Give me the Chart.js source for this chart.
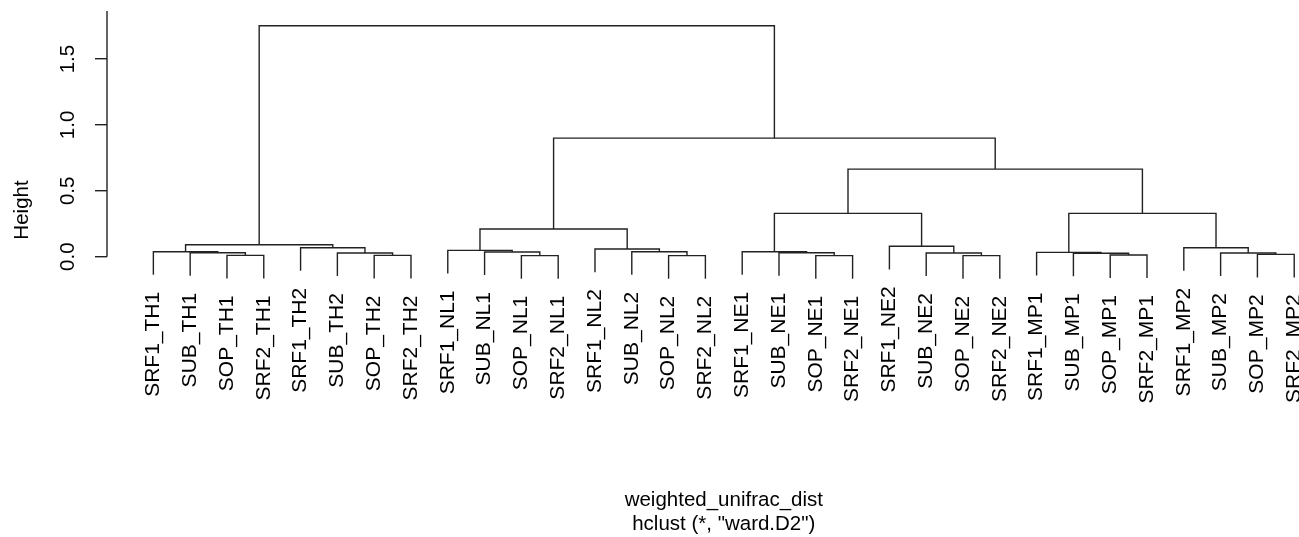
<!DOCTYPE html>
<html>
<head>
<meta charset="utf-8">
<script src="https://cdn.jsdelivr.net/npm/chart.js@4.4.1/dist/chart.umd.min.js"></script>
<style>
body { margin: 0; background: #fff; }
#wrap { width: 1299px; height: 537px; }
</style>
</head>
<body>
<div id="wrap"><canvas id="myGraf"></canvas></div>
<script>
// feuilles dans l'ordre du dendrogramme
var leafLabels = [
    "SRF1_TH1", "SUB_TH1", "SOP_TH1", "SRF2_TH1", "SRF1_TH2", "SUB_TH2", "SOP_TH2", "SRF2_TH2",
    "SRF1_NL1", "SUB_NL1", "SOP_NL1", "SRF2_NL1", "SRF1_NL2", "SUB_NL2", "SOP_NL2", "SRF2_NL2",
    "SRF1_NE1", "SUB_NE1", "SOP_NE1", "SRF2_NE1", "SRF1_NE2", "SUB_NE2", "SOP_NE2", "SRF2_NE2",
    "SRF1_MP1", "SUB_MP1", "SOP_MP1", "SRF2_MP1", "SRF1_MP2", "SUB_MP2", "SOP_MP2", "SRF2_MP2"
];

// style hclust : negatif = feuille, positif = fusion precedente
var merges = [
    [-3, -4], [-2, 1], [-1, 2],
    [-7, -8], [-6, 4], [-5, 5],
    [3, 6],
    [-11, -12], [-10, 8], [-9, 9],
    [-15, -16], [-14, 11], [-13, 12],
    [10, 13],
    [-19, -20], [-18, 15], [-17, 16],
    [-23, -24], [-22, 18], [-21, 19],
    [17, 20],
    [-27, -28], [-26, 22], [-25, 23],
    [-31, -32], [-30, 25], [-29, 26],
    [24, 27],
    [21, 28],
    [14, 29],
    [7, 30]
];

var mergeHeights = [
    0.010, 0.030, 0.038,
    0.010, 0.028, 0.068,
    0.091,
    0.008, 0.036, 0.048,
    0.008, 0.038, 0.058,
    0.210,
    0.008, 0.030, 0.038,
    0.008, 0.028, 0.079,
    0.329,
    0.013, 0.026, 0.033,
    0.018, 0.028, 0.068,
    0.329,
    0.665,
    0.900,
    1.753
];

var yTicks = [0, 0.5, 1, 1.5];
var xTitle = "weighted_unifrac_dist";
var xSub = 'hclust (*, "ward.D2")';

var fontFam = "'Liberation Sans', Arial, sans-serif";
var hang = 0.1 * Math.max.apply(null, mergeHeights);
var nodeX = [];
var leafEnd = {};

function childPos(id, h) {
    if (id < 0) {
        leafEnd[-id] = h - hang;
        return { x: -id, y: h - hang };
    }
    return { x: nodeX[id - 1], y: mergeHeights[id - 1] };
}

var datasets = merges.map(function(m, i) {
    var h = mergeHeights[i];
    var a = childPos(m[0], h);
    var b = childPos(m[1], h);
    nodeX[i] = (a.x + b.x) / 2;
    return {
        data: [{x: a.x, y: a.y}, {x: a.x, y: h}, {x: b.x, y: h}, {x: b.x, y: b.y}],
        borderColor: '#222',
        borderWidth: 1.4,
        pointRadius: 0,
        fill: false,
        tension: 0
    };
});

var dendroText = {
    id: 'dendroText',
    afterDraw: function(chart) {
        var ctx = chart.ctx;
        var xs = chart.scales.x, ys = chart.scales.y;
        var area = chart.chartArea;
        ctx.save();
        // ligne de l'axe Y de 0 jusqu'en haut
        ctx.strokeStyle = '#222';
        ctx.lineWidth = 1.4;
        ctx.beginPath();
        ctx.moveTo(area.left, ys.getPixelForValue(0));
        ctx.lineTo(area.left, area.top);
        ctx.stroke();

        ctx.fillStyle = '#000';
        ctx.font = '21px ' + fontFam;
        leafLabels.forEach(function(lab, i) {
            var px = xs.getPixelForValue(i + 1);
            var py = ys.getPixelForValue(leafEnd[i + 1]) + 17;
            ctx.save();
            ctx.translate(px, py);
            ctx.rotate(-Math.PI / 2);
            ctx.textAlign = 'right';
            ctx.textBaseline = 'middle';
            ctx.fillText(lab, 0, 0);
            ctx.restore();
        });

        var cx = xs.getPixelForValue((1 + leafLabels.length) / 2);
        ctx.font = '20.5px ' + fontFam;
        ctx.textAlign = 'center';
        ctx.textBaseline = 'middle';
        ctx.fillText(xTitle, cx, chart.height - 37);
        ctx.fillText(xSub, cx, chart.height - 13);
        ctx.restore();
    }
};

var ctx = document.getElementById('myGraf').getContext('2d');
var myGraf = new Chart(ctx, {
    type: 'line',
    data: { datasets: datasets },
    options: {
        responsive: true,
        maintainAspectRatio: false,
        animation: false,
        layout: { padding: { top: 11, bottom: 128, left: 0, right: 0 } },
        plugins: { legend: { display: false }, tooltip: { enabled: false } },
        scales: {
            x: { type: 'linear', min: -0.26, max: 32.13, display: false },
            y: {
                type: 'linear',
                min: -1.156,
                max: 1.865,
                afterBuildTicks: function(scale) {
                    scale.ticks = yTicks.map(function(v) { return { value: v }; });
                },
                afterFit: function(scale) {
                    scale.width = 107;
                    scale.paddingTop = 0;
                    scale.paddingBottom = 0;
                },
                border: { display: false },
                grid: { drawOnChartArea: false, drawTicks: true, tickLength: 12, color: '#222', lineWidth: 1.4 },
                ticks: {
                    minRotation: 90,
                    maxRotation: 90,
                    crossAlign: 'center',
                    padding: 12,
                    color: '#000',
                    font: { family: fontFam, size: 20.5 },
                    callback: function(v) { return v.toFixed(1); }
                },
                title: {
                    display: true,
                    text: 'Height',
                    color: '#000',
                    font: { family: fontFam, size: 20.5 },
                    padding: { top: 10, bottom: 0 }
                }
            }
        }
    },
    plugins: [dendroText]
});
</script>
</body>
</html>
